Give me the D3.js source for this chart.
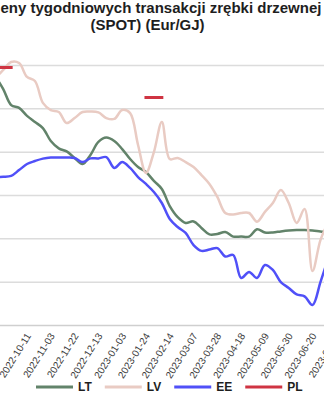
<!DOCTYPE html>
<html>
<head>
<meta charset="utf-8">
<script src="https://cdn.jsdelivr.net/npm/d3@7"></script>
<style>
  body { margin: 0; background: #fff; }
  svg { display: block; font-family: Arial, "Liberation Sans", sans-serif; }
</style>
</head>
<body>
<svg id="chart" width="324" height="400"></svg>
<script>
// weekly categories (the picture is cropped: the first and last ones fall outside)
const dates = [
  '2022-09-13', '2022-09-20', '2022-09-27', '2022-10-04', '2022-10-11', '2022-10-18', '2022-10-25',
  '2022-11-03', '2022-11-08', '2022-11-15', '2022-11-22', '2022-11-29', '2022-12-06', '2022-12-13',
  '2022-12-20', '2022-12-27', '2023-01-03', '2023-01-10', '2023-01-17', '2023-01-24', '2023-01-31',
  '2023-02-07', '2023-02-14', '2023-02-21', '2023-02-28', '2023-03-07', '2023-03-14', '2023-03-21',
  '2023-03-28', '2023-04-04', '2023-04-11', '2023-04-18', '2023-04-25', '2023-05-02', '2023-05-09',
  '2023-05-16', '2023-05-23', '2023-05-30', '2023-06-06', '2023-06-13', '2023-06-20', '2023-06-27',
  '2023-07-04', '2023-07-11'
]

const tickLabels = [
  '2022-10-11', '2022-11-03', '2022-11-22', '2022-12-13', '2023-01-03', '2023-01-24', '2023-02-14',
  '2023-03-07', '2023-03-28', '2023-04-18', '2023-05-09', '2023-05-30', '2023-06-20', '2023-07-11'
]

const gridValues = [2, 4, 6, 8, 10, 12, 14]

const lt = [
  13.49, 12.89, 12.15, 12.02, 11.65, 11.37, 11.09, 10.49, 10.15, 10.01, 9.71, 9.43, 9.85, 10.45,
  10.65, 10.49, 10.12, 9.66, 9.29, 9.06, 8.65, 8.28, 7.49, 6.98, 6.71, 6.78, 6.48, 6.18,
  6.20, 6.29, 6.08, 6.08, 6.08, 6.42, 6.27, 6.27, 6.32, 6.36, 6.38, 6.38, 6.36, 6.32,
  6.29, null
]

const lv = [
  13.40, 13.77, 14.14, 14.09, 13.45, 13.26, 12.25, 11.92, 11.83, 11.32, 11.55, 11.83, 11.85, 11.81,
  11.55, 11.51, 11.92, 11.78, 10.31, 9.02, 9.98, 11.37, 9.66, 9.71, 9.52, 9.29, 8.92, 8.51,
  7.91, 7.17, 7.10, 7.17, 7.17, 6.77, 7.22, 7.63, 8.23, 7.63, 6.71, 7.35, 4.49, 5.92,
  6.75, null
]

const ee = [
  8.83, 8.84, 8.88, 9.15, 9.43, 9.57, 9.68, 9.73, 9.73, 9.73, 9.71, 9.52, 9.69, 9.69,
  9.75, 9.25, 9.52, 9.25, 8.83, 8.51, 8.14, 7.63, 6.89, 6.52, 6.25, 5.69, 5.42, 5.48,
  5.55, 5.16, 5.23, 4.17, 4.45, 4.17, 4.77, 4.54, 3.98, 3.71, 3.41, 3.32, 2.92, 3.98,
  5.09, null
]

const pl = [
  13.88, 13.88, 13.88, null, null, null, null, null, null, null, null, null, null, null,
  null, null, null, null, null, 12.50, 12.50, 12.50, null, null, null, null, null, null,
  null, null, null, null, null, null, null, null, null, null, null, null, null, null,
  null, null
]

const series = [
  { name: 'LT', values: lt, color: '#62836a' },
  { name: 'LV', values: lv, color: '#e9cbc3' },
  { name: 'EE', values: ee, color: '#5050f8' },
  { name: 'PL', values: pl, color: '#cf3442' }
]

const width = 324
const height = 400
const svg = d3.select('#chart')

const x = d3.scalePoint()
  .domain(dates)
  .range([-4.7, 336.3])

const y = d3.scaleLinear()
  .domain([2, 14])
  .range([325, 65])

// title (cut at both sides like the source picture)
svg.append('text')
  .attr('x', 0.5)
  .attr('y', 13)
  .style('font-size', '15px')
  .style('font-weight', 'bold')
  .style('fill', '#1e1e1e')
  .text('eny tygodniowych transakcji zrębki drzewnej')

svg.append('text')
  .attr('x', 147.5)
  .attr('y', 30)
  .attr('text-anchor', 'middle')
  .style('font-size', '15px')
  .style('font-weight', 'bold')
  .style('fill', '#1e1e1e')
  .text('(SPOT) (Eur/GJ)')

// gridlines
const grid = svg.append('g')
  .call(d3.axisRight(y).tickValues(gridValues).tickSize(width).tickFormat(''))

grid.select('.domain').remove()
grid.selectAll('.tick line')
  .attr('stroke', (d) => d === 2 ? '#cfcfcf' : '#dcdcdc')
  .attr('stroke-width', 1.5)

// lines
const line = d3.line()
  .defined((d) => d != null)
  .x((d, i) => x(dates[i]))
  .y((d) => y(d))
  .curve(d3.curveCatmullRom.alpha(0.5))

svg.append('g')
  .selectAll('path')
  .data(series)
  .enter()
  .append('path')
  .attr('d', (s) => line(s.values))
  .attr('fill', 'none')
  .attr('stroke', (s) => s.color)
  .attr('stroke-width', (s) => s.name === 'PL' ? 3 : 2.5)
  .attr('stroke-linejoin', 'round')
  .attr('stroke-linecap', (s) => s.name === 'PL' ? 'square' : 'round')

// x axis labels
const xAxis = svg.append('g')
  .attr('transform', `translate(0, 325)`)
  .call(d3.axisBottom(x).tickValues(tickLabels).tickSize(0))

xAxis.select('.domain').remove()
xAxis.selectAll('text')
  .attr('x', 0)
  .attr('y', 0)
  .attr('dy', '0.35em')
  .attr('text-anchor', 'end')
  .attr('transform', 'translate(1, 9) rotate(-58)')
  .style('font-size', '10px')
  .style('font-family', 'Arial, "Liberation Sans", sans-serif')
  .style('fill', '#3c3c3c')

// legend
const legend = svg.append('g')
  .attr('transform', 'translate(36, 387)')

let offset = 0
series.forEach((s) => {
  const item = legend.append('g').attr('transform', `translate(${offset}, 0)`)
  item.append('line')
    .attr('x1', 0)
    .attr('x2', 37)
    .attr('stroke', s.color)
    .attr('stroke-width', 3)
  const label = item.append('text')
    .attr('x', 42)
    .attr('dy', '0.36em')
    .style('font-size', '12px')
    .style('font-weight', 'bold')
    .style('fill', '#1e1e1e')
    .text(s.name)
  offset += 42 + label.node().getComputedTextLength() + 13
})
</script>
</body>
</html>
